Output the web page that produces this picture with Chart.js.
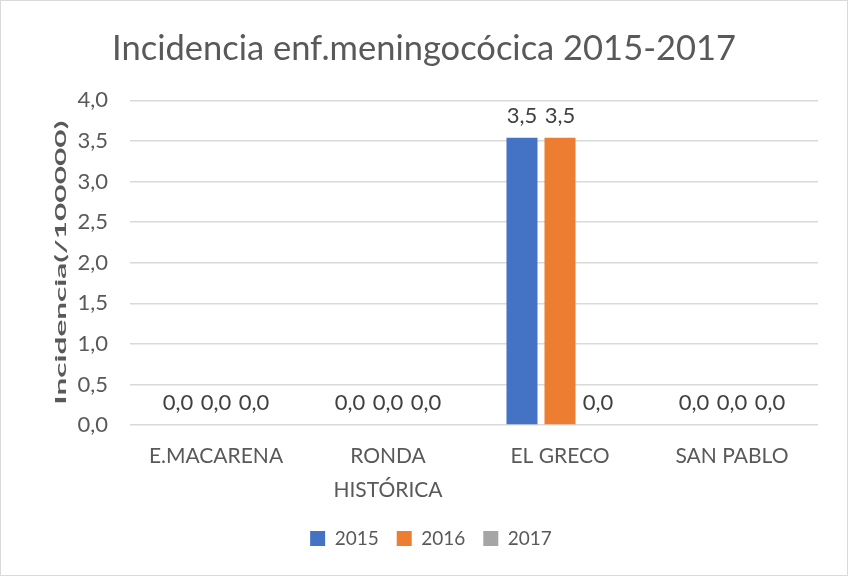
<!DOCTYPE html>
<html>
<head>
<meta charset="utf-8">
<script src="https://cdn.jsdelivr.net/npm/chart.js@4"></script>
<style>
  html, body { margin: 0; padding: 0; background: #fff; }
  #wrap { width: 848px; height: 576px; }
</style>
</head>
<body>
<div id="wrap"><canvas id="grafico" width="848" height="576"></canvas></div>
<script>
const categorias = ['E.MACARENA', ['RONDA', 'HISTÓRICA'], 'EL GRECO', 'SAN PABLO'];
const anios = ['2015', '2016', '2017'];
const valores2015 = [0, 0, 3.54, 0];
const valores2016 = [0, 0, 3.54, 0];
const valores2017 = [0, 0, 0, 0];
const colores = ['#4472C4', '#ED7D31', '#A5A5A5'];
const tituloY = 'Incidencia(/100000)';

const fmt = (v) => v.toFixed(1).replace('.', ',');

// fondo blanco y borde gris del grafico
const fondo = {
  id: 'fondo',
  beforeDraw: (chart) => {
    const ctx = chart.ctx;
    ctx.save();
    ctx.fillStyle = '#fff';
    ctx.fillRect(0, 0, chart.width, chart.height);
    ctx.strokeStyle = '#D9D9D9';
    ctx.lineWidth = 1;
    ctx.strokeRect(0.5, 0.5, chart.width - 1, chart.height - 1);
    ctx.restore();
  }
};

// titulo y leyenda centrados en todo el ancho del lienzo
const centrar = {
  id: 'centrar',
  afterLayout: (chart) => {
    [chart.titleBlock, chart.legend].forEach((b) => {
      if (!b) return;
      b.left = 0;
      b.right = chart.width;
      b.width = chart.width;
    });
    if (chart.legend) {
      chart.legend.left = 7;
      chart.legend.right = chart.width + 7;
    }
  }
};

// etiquetas de valor encima de cada barra
const etiquetas = {
  id: 'etiquetas',
  afterDatasetsDraw: (chart) => {
    const ctx = chart.ctx;
    ctx.save();
    ctx.font = '22px Lato';
    ctx.fillStyle = '#404040';
    ctx.textAlign = 'center';
    ctx.textBaseline = 'middle';
    chart.data.datasets.forEach((ds, i) => {
      const meta = chart.getDatasetMeta(i);
      meta.data.forEach((bar, j) => {
        ctx.fillText(fmt(ds.data[j]), bar.x, bar.y - 22);
      });
    });
    ctx.restore();
  }
};

// titulo del eje Y, comprimido como en el original
const ejeY = {
  id: 'ejeY',
  afterDraw: (chart) => {
    const ctx = chart.ctx;
    const area = chart.chartArea;
    ctx.save();
    ctx.font = 'bold 16px Lato';
    ctx.fillStyle = '#595959';
    ctx.textAlign = 'center';
    ctx.textBaseline = 'middle';
    const w = ctx.measureText(tituloY).width;
    ctx.translate(61, (area.top + area.bottom) / 2);
    ctx.rotate(-Math.PI / 2);
    ctx.scale(284 / w, 1);
    ctx.fillText(tituloY, 0, 0);
    ctx.restore();
  }
};

const datos = [valores2015, valores2016, valores2017];

new Chart(document.getElementById('grafico').getContext('2d'), {
  type: 'bar',
  data: {
    labels: categorias,
    datasets: anios.map((a, i) => ({
      label: a,
      data: datos[i],
      backgroundColor: colores[i],
      borderWidth: 0,
      categoryPercentage: 0.663,
      barPercentage: 0.816
    }))
  },
  options: {
    responsive: false,
    animation: false,
    layout: { padding: { left: 0, right: 30, top: 0, bottom: 18 } },
    plugins: {
      title: {
        display: true,
        text: 'Incidencia enf.meningocócica 2015-2017',
        color: '#595959',
        font: { family: 'Lato', size: 34.5, weight: 'normal' },
        padding: { top: 28, bottom: 31 }
      },
      legend: {
        position: 'bottom',
        labels: {
          color: '#595959',
          font: { family: 'Lato', size: 19 },
          boxWidth: 15,
          boxHeight: 15,
          padding: 18
        }
      },
      tooltip: { enabled: false }
    },
    scales: {
      x: {
        grid: { display: false },
        border: { display: false },
        ticks: {
          color: '#595959',
          font: { family: 'Lato', size: 21, lineHeight: 1.58 },
          padding: 7,
          maxRotation: 0
        },
        afterFit: (s) => { s.height = 86; }
      },
      y: {
        min: 0,
        max: 4,
        grid: { color: '#D9D9D9', lineWidth: 1.5, drawTicks: false },
        border: { display: false },
        ticks: {
          stepSize: 0.5,
          color: '#595959',
          font: { family: 'Lato', size: 22 },
          padding: 22,
          callback: (v) => fmt(v)
        },
        afterFit: (s) => { s.width = 130; }
      }
    }
  },
  plugins: [fondo, centrar, etiquetas, ejeY]
});
</script>
</body>
</html>
